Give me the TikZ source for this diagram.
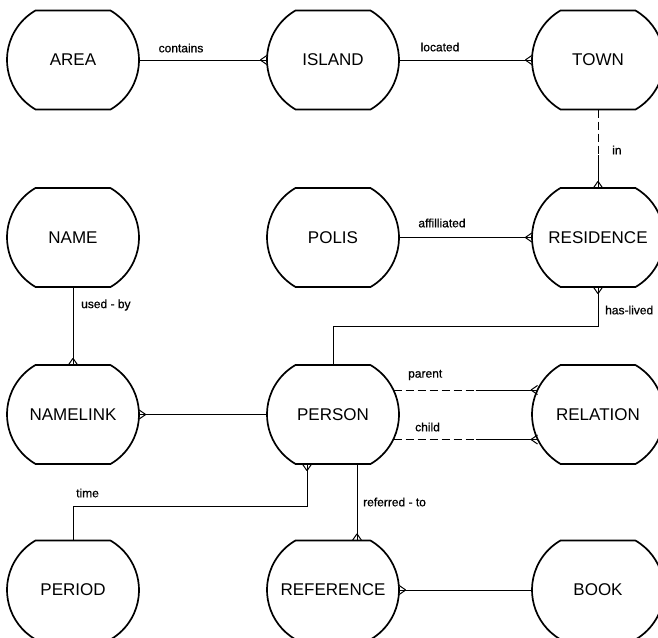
\documentclass[tikz,border=0pt]{standalone}
\usepackage{fontspec}
\setmainfont{Liberation Sans}
\newfontfamily\labfont{Liberation Sans}[FakeBold=0.7]
\usetikzlibrary{calc}

% crow's foot: #1 = point on the entity border, #2 = outward direction (degrees)
\newcommand\crowfoot[2]{%
  \pgfmathsetmacro\cfl{#2+90}%
  \pgfmathsetmacro\cfr{#2-90}%
  \draw[conn] ($(#1)+(#2:6.5pt)$) -- ($(#1)+(\cfl:4.5pt)$)
              ($(#1)+(#2:6.5pt)$) -- ($(#1)+(\cfr:4.5pt)$);}

\begin{document}
\begin{tikzpicture}[x=1pt,y=-1pt,
  ent/.style={minimum width=132pt,minimum height=99pt,inner sep=0pt,
              font=\fontsize{17}{17}\selectfont},
  outline/.style={line width=1.7pt,line join=round},
  conn/.style={line width=1pt},
  opt/.style={conn,dash pattern=on 8pt off 4pt},
  lab/.style={font=\labfont\fontsize{12}{12}\selectfont,inner sep=0pt}]
\useasboundingbox (0,0) rectangle (658,637);

% entities
\node[ent] (area)      at (73,60)    {AREA};
\node[ent] (island)    at (333,60)   {ISLAND};
\node[ent] (town)      at (598,60)   {TOWN};
\node[ent] (name)      at (73,237.5) {NAME};
\node[ent] (polis)     at (333,237.5){POLIS};
\node[ent] (residence) at (598,237.5){RESIDENCE};
\node[ent] (namelink)  at (73,414.5) {NAMELINK};
\node[ent] (person)    at (333,414.5){PERSON};
\node[ent] (relation)  at (598,414.5){RELATION};
\node[ent] (period)    at (73,590)   {PERIOD};
\node[ent] (reference) at (333,590)  {REFERENCE};
\node[ent] (book)      at (598,590)  {BOOK};

% entity outlines: circle cut flat at top and bottom
\foreach \n in {area,island,town,name,polis,residence,namelink,person,relation,period,reference,book}
  \draw[outline] ($(\n)+(-37.4,-49.5)$) -- ($(\n)+(37.4,-49.5)$)
     arc[start angle=60,end angle=-60,radius=57.2pt]
     -- ($(\n)+(-37.4,49.5)$)
     arc[start angle=240,end angle=120,radius=57.2pt] -- cycle;

% contains
\draw[conn] (area.east) -- (island.west);
\crowfoot{island.west}{180}
\node[lab] (lcontains) at (181,48) {contains};

% located
\draw[conn] (island.east) -- (town.west);
\crowfoot{town.west}{180}
\node[lab] (llocated) at (440,47) {located};

% in
\draw[opt] (town.south) -- ($(town.south)!0.58!(residence.north)$) coordinate (inmid);
\draw[conn] (inmid) -- (residence.north);
\crowfoot{residence.north}{90}
\node[lab,anchor=west] (lin) at (612,150) {in};

% affilliated
\draw[conn] (polis.east) -- (residence.west);
\crowfoot{residence.west}{180}
\node[lab] (laff) at (442,223) {affilliated};

% has-lived
\draw[conn] (residence.south) -- ++(0,39) -| (person.north);
\crowfoot{residence.south}{270}
\node[lab,anchor=west] (lhas) at (605,310) {has-lived};

% used-by
\draw[conn] (name.south) -- (namelink.north);
\crowfoot{namelink.north}{90}
\node[lab,anchor=west] (lused) at (81,305) {used - by};

% namelink to person
\draw[conn] (namelink.east) -- (person.west);
\crowfoot{namelink.east}{0}

% parent / child
\coordinate (pp) at ($(person.center)+(60.5,-24.5)$);
\coordinate (rp) at ($(relation.center)+(-60.5,-24.5)$);
\draw[opt] (pp) -- ($(pp)!0.57!(rp)$) coordinate (pmid);
\draw[conn] (pmid) -- (rp);
\crowfoot{rp}{180}
\node[lab,anchor=west] (lparent) at (408,375) {parent};

\coordinate (pc) at ($(person.center)+(60.5,25)$);
\coordinate (rc) at ($(relation.center)+(-60.5,25)$);
\draw[opt] (pc) -- ($(pc)!0.57!(rc)$) coordinate (cmid);
\draw[conn] (cmid) -- (rc);
\crowfoot{rc}{180}
\node[lab,anchor=west] (lchild) at (415,427) {child};

% time
\coordinate (pt) at ($(person.south)+(-26,0)$);
\draw[conn] (pt) -- ++(0,42.5) -| (period.north);
\crowfoot{pt}{270}
\node[lab,anchor=west] (ltime) at (76,493) {time};

% referred-to
\coordinate (pr) at ($(person.south)+(24,0)$);
\coordinate (rr) at ($(reference.north)+(24,0)$);
\draw[conn] (pr) -- (rr);
\crowfoot{rr}{90}
\node[lab,anchor=west] (lref) at (363,502) {referred - to};

% reference to book
\draw[conn] (reference.east) -- (book.west);
\crowfoot{reference.east}{0}
\end{tikzpicture}
\end{document}
